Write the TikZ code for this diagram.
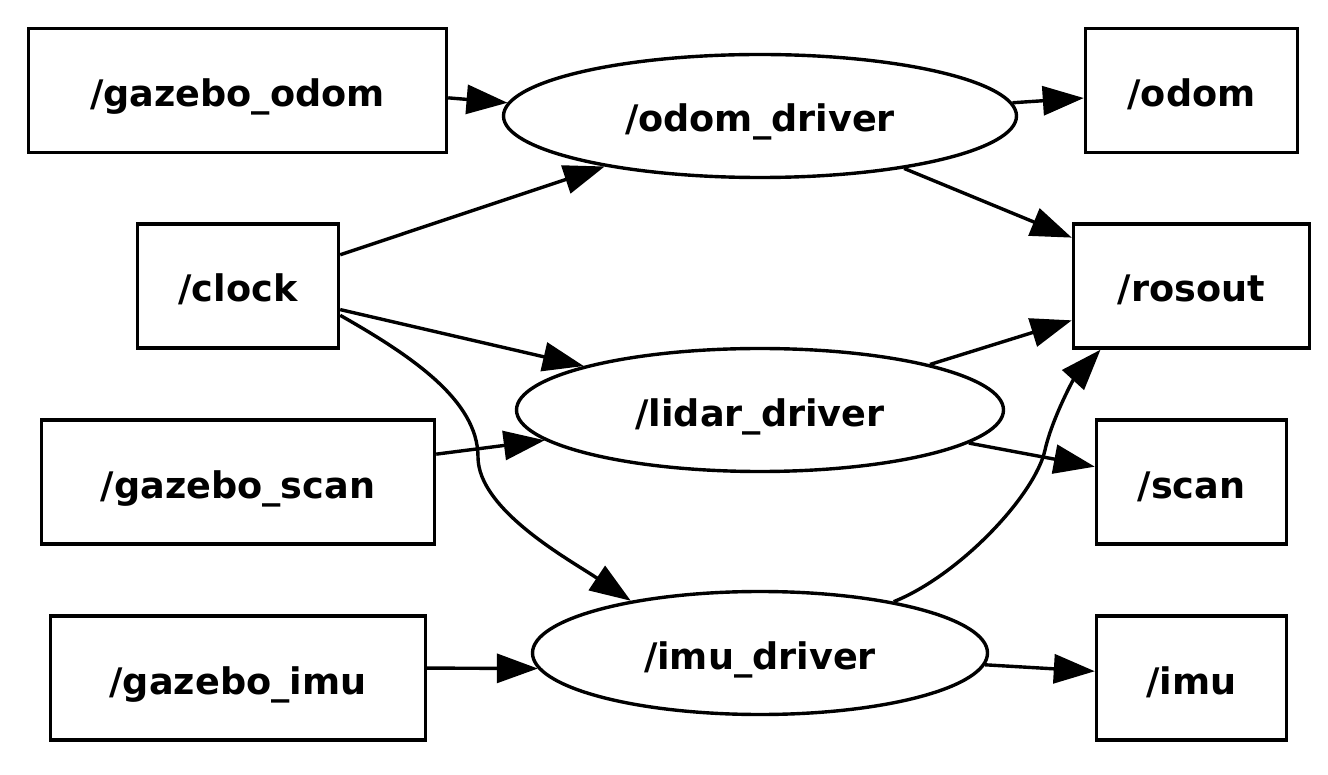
\documentclass[tikz,border=0pt]{standalone}
\usepackage{fontspec}
\setmainfont{DejaVu Sans}
\usetikzlibrary{arrows.meta,shapes.geometric}
\begin{document}
\begin{tikzpicture}[x=1pt,y=-1pt,
  every node/.style={font=\fontsize{36.6}{40}\selectfont\bfseries, text height=32pt, text depth=0pt, line width=3.4pt, draw, inner sep=0pt},
  topic/.style={rectangle, minimum height=124pt},
  rosnode/.style={ellipse, minimum height=123pt},
  edge/.style={line width=3.4pt, -{Triangle[length=41pt,width=29pt]}}
]
\useasboundingbox (0,0) rectangle (1328,775);
% left column
\node[topic, minimum width=418pt] (go) at (237.5,90.5) {/gazebo\_odom};
\node[topic, minimum width=201pt] (cl) at (238,286) {/clock};
\node[topic, minimum width=393pt] (gs) at (238,482) {/gazebo\_scan};
\node[topic, minimum width=375pt] (gi) at (238,678) {/gazebo\_imu};
% middle column
\node[rosnode, minimum width=513pt] (od) at (760,116) {/odom\_driver};
\node[rosnode, minimum width=487pt] (ld) at (760,410) {/lidar\_driver};
\node[rosnode, minimum width=455pt] (idr) at (760,653) {/imu\_driver};
% right column
\node[topic, minimum width=212pt] (oo) at (1191.5,90.5) {/odom};
\node[topic, minimum width=236pt] (ro) at (1191.5,286) {/rosout};
\node[topic, minimum width=190pt] (sc) at (1191.5,482) {/scan};
\node[topic, minimum width=190pt] (im) at (1191.5,678) {/imu};
% edges
\draw[edge] (go.-2.6) -- (od.177.05);
\draw[edge] (cl.17.9) -- (od.-162.7);
\draw[edge] (cl.-13.8) -- (ld.166.95);
\draw[edge] (cl.-16.4) .. controls (410,355) and (478,400) .. (478,457) .. controls (478,510) and (570,560) .. (idr.158.9);
\draw[edge] (gs.8.05) -- (ld.-172.73);
\draw[edge] (gi.3.03) -- (idr.-176.94);
\draw[edge] (od.3.43) -- (oo.-176.54);
\draw[edge] (od.-20.7) -- (ro.158.53);
\draw[edge] (ld.15.77) -- (ro.-164.12);
\draw[edge] (ld.-9.25) -- (sc.171.16);
\draw[edge] (idr.21.1) .. controls (960,575) and (1035,495) .. (1045,450) .. controls (1052,419) and (1073,380) .. (ro.-145);
\draw[edge] (idr.-3.06) -- (im.176.44);
\end{tikzpicture}
\end{document}
